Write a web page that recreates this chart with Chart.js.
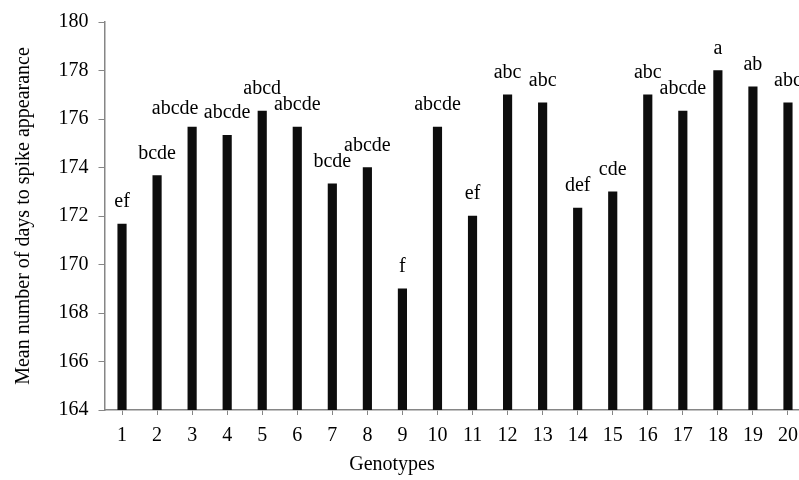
<!DOCTYPE html>
<html>
<head>
<meta charset="utf-8">
<script src="https://cdn.jsdelivr.net/npm/chart.js@4.4.0/dist/chart.umd.min.js"></script>
<style>
	body { margin: 0; background: #fff; overflow: hidden; }
	#wrap { width: 812px; height: 480px; }
</style>
</head>
<body>
<div id="wrap"><canvas id="chart-1" width="812" height="480"></canvas></div>
<script>
const genotypes = ['1', '2', '3', '4', '5', '6', '7', '8', '9', '10', '11', '12', '13', '14', '15', '16', '17', '18', '19', '20'];
const meanDays = [171.67, 173.67, 175.67, 175.33, 176.33, 175.67, 173.33, 174, 169, 175.67, 172, 177, 176.67, 172.33, 173, 177, 176.33, 178, 177.33, 176.67];
const groups = ['ef', 'bcde', 'abcde', 'abcde', 'abcd', 'abcde', 'bcde', 'abcde', 'f', 'abcde', 'ef', 'abc', 'abc', 'def', 'cde', 'abc', 'abcde', 'a', 'ab', 'abc'];
const yMin = 164, yMax = 180, yStep = 2;

const serif = "'Liberation Serif', 'Times New Roman', serif";
const axisGrey = '#868686';

// label of bar 3 was pushed aside in the original so it does not hit bar 4's label
const labelNudge = { 2: [-17, 4] };

Chart.defaults.font.family = serif;
Chart.defaults.font.size = 20;
Chart.defaults.color = '#000';

const letterLabels = {
	id: 'letterLabels',
	afterDatasetsDraw(chart) {
		const ctx = chart.ctx;
		const meta = chart.getDatasetMeta(0);
		ctx.save();
		ctx.font = '20px ' + serif;
		ctx.fillStyle = '#000';
		ctx.textAlign = 'center';
		ctx.textBaseline = 'middle';
		meta.data.forEach((bar, i) => {
			const n = labelNudge[i] || [0, 0];
			ctx.fillText(groups[i], bar.x + n[0], bar.y - 22 + n[1]);
		});
		ctx.restore();
	},
	afterDraw(chart) {
		// x title sits under the visible part of the figure, not the full axis
		const ctx = chart.ctx;
		ctx.save();
		ctx.font = '20px ' + serif;
		ctx.fillStyle = '#000';
		ctx.textAlign = 'center';
		ctx.textBaseline = 'middle';
		ctx.fillText('Genotypes', 392, 465);
		ctx.restore();
	}
};

var data1 = {
	labels: genotypes,
	datasets: [{
		label: 'Mean number of days to spike appearance',
		data: meanDays,
		backgroundColor: '#0d0d0d',
		borderWidth: 0,
		barThickness: 8.5
	}]
};

var options1 = {
	responsive: false,
	animation: false,
	layout: {
		padding: { top: 19, right: 6.5, bottom: 0, left: 0 }
	},
	plugins: {
		legend: { display: false },
		tooltip: { enabled: false }
	},
	scales: {
		x: {
			afterFit: scale => { scale.height = 70; },
			grid: {
				offset: false,
				drawOnChartArea: false,
				color: axisGrey,
				tickLength: 5
			},
			border: { color: axisGrey, width: 1.5 },
			ticks: {
				padding: 9,
				maxRotation: 0,
				minRotation: 0,
				autoSkip: false
			}
		},
		y: {
			min: yMin,
			max: yMax,
			afterFit: scale => { scale.width = 104.5; },
			grid: {
				drawOnChartArea: false,
				color: axisGrey,
				tickLength: 6
			},
			border: { color: axisGrey, width: 1.5 },
			ticks: {
				stepSize: yStep,
				padding: 10
			},
			title: {
				display: true,
				text: 'Mean number of days to spike appearance',
				padding: { top: 12, bottom: 0 }
			}
		}
	}
};

var graph = new Chart('chart-1', {
	type: 'bar',
	data: data1,
	options: options1,
	plugins: [letterLabels]
});
</script>
</body>
</html>
